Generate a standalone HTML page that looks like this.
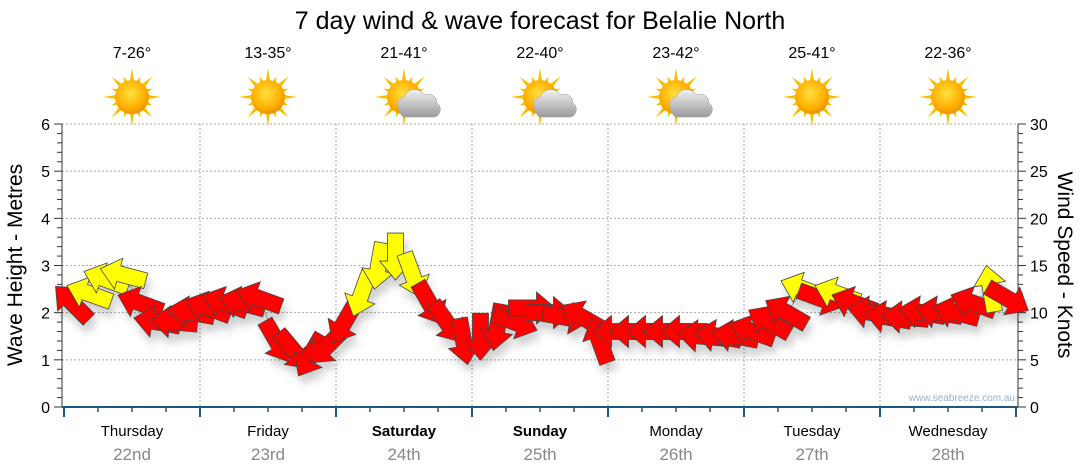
<!DOCTYPE html>
<html><head><meta charset="utf-8"><style>
body{margin:0;background:#fff;font-family:"Liberation Sans","DejaVu Sans",sans-serif}
svg{display:block}
</style></head><body>
<svg id="c" width="1080" height="475" viewBox="0 0 1080 475">
<defs>
<filter id="sh" x="-50%" y="-50%" width="200%" height="200%"><feDropShadow dx="3" dy="8" stdDeviation="4" flood-color="#000" flood-opacity="0.18"/></filter>
<radialGradient id="sun" cx="45%" cy="40%" r="60%"><stop offset="0" stop-color="#ffe040"/><stop offset="0.7" stop-color="#ffb000"/><stop offset="1" stop-color="#f09000"/></radialGradient>
<linearGradient id="cl" x1="0" y1="0" x2="0" y2="1"><stop offset="0" stop-color="#f2f2f2"/><stop offset="1" stop-color="#9a9a9a"/></linearGradient>
</defs>
<text x="540" y="29" font-size="25" text-anchor="middle" fill="#000">7 day wind &amp; wave forecast for Belalie North</text>
<g id="grid"></g>
<g id="axes"></g>
<g id="wx"></g>
<g id="arrows" filter="url(#sh)"></g>
<text x="1015" y="401" font-size="10" text-anchor="end" fill="#9ab0c8">www.seabreeze.com.au</text>
<text transform="translate(22,265) rotate(-90)" font-size="21" text-anchor="middle">Wave Height - Metres</text>
<text transform="translate(1058,265) rotate(90)" font-size="21" text-anchor="middle">Wind Speed - Knots</text>
</svg>
<script>
const days=["Thursday","Friday","Saturday","Sunday","Monday","Tuesday","Wednesday"];
const dates=["22nd","23rd","24th","25th","26th","27th","28th"];
const temps=["7-26°","13-35°","21-41°","22-40°","23-42°","25-41°","22-36°"];
const cloudy=[0,0,1,1,1,0,0];
const waveTicks=[0,1,2,3,4,5,6];
const windTicks=[0,5,10,15,20,25,30];
const windKnots=[11,12,13.5,14,11,9,9,10, 10.5,11,11,11.5,7,6,5.5,6.5, 9,12,15,16,14,11,9,7, 7.5,8.5,9,10.5,10,9.5,9.5,7, 8,8,8,8,8,7.5,7.5,7.5, 8,9,10,12.5,11.5,12,11,10, 9.5,9.5,10,10,10,11,12.5,11.5];
const windDir=[225,200,200,195,200,190,185,190, 200,200,195,200,60,50,120,135, 120,110,100,90,70,60,55,80, 90,100,20,0,0,10,210,250, 180,180,180,180,180,185,190,190, 200,210,210,200,20,200,200,190, 190,185,190,190,195,200,260,30];
const seaBreeze=[0,1,1,1,0,0,0,0, 0,0,0,0,0,0,0,0, 0,1,1,1,1,0,0,0, 0,0,0,0,0,0,0,0, 0,0,0,0,0,0,0,0, 0,0,0,1,0,1,0,0, 0,0,0,0,0,0,1,0];

const NS="http://www.w3.org/2000/svg";
const X0=64,DW=136,Y0=407,H=283;
const xDay=d=>X0+d*DW;
const xSlot=i=>X0+(i+0.5)*DW/8;
const yWave=m=>Y0-m*H/6;
const yKn=k=>Y0-k*H/30;
function mk(p,t,a){const e=document.createElementNS(NS,t);for(const k in a)e.setAttribute(k,a[k]);p.appendChild(e);return e;}
const grid=document.getElementById('grid'),axes=document.getElementById('axes'),wx=document.getElementById('wx'),ar=document.getElementById('arrows');
waveTicks.forEach(v=>{if(v>0){const l=mk(grid,'line',{x1:62,x2:1018,y1:yWave(v),y2:yWave(v),stroke:'#aaa','stroke-dasharray':'2,2'});

}
const t=mk(axes,'text',{x:50,y:yWave(v)+6,'font-size':16,'text-anchor':'end'});t.textContent=v;

});
windTicks.forEach(v=>{const t=mk(axes,'text',{x:1030,y:yKn(v)+6,'font-size':16});t.textContent=v;

});
for(let m=0;m<=30;m++){const y=yWave(m*0.2),L=m%5==0?8:5;mk(axes,'line',{x1:62-L,x2:62,y1:y,y2:y,stroke:'#333'});mk(axes,'line',{x1:1018,x2:1018+L,y1:y,y2:y,stroke:'#333'});}
mk(axes,'line',{x1:62,x2:62,y1:124,y2:407,stroke:'#333'});
mk(axes,'line',{x1:1018,x2:1018,y1:124,y2:407,stroke:'#333'});
for(let d=1;d<7;d++){const l=mk(grid,'line',{x1:xDay(d),x2:xDay(d),y1:124,y2:407,stroke:'#aaa','stroke-dasharray':'2,2'});

}
for(let q=0;q<=28;q++){const x=X0+q*DW/4;mk(axes,'line',{x1:x,x2:x,y1:407,y2:q%4==0?417:412,stroke:'#1d5a7a','stroke-width':q%4==0?2:1.5});}
const xa=mk(axes,'line',{x1:62,x2:1018,y1:407,y2:407,stroke:'#1d5a7a','stroke-width':2});


days.forEach((d,i)=>{const cx=xDay(i)+DW/2;
const t=mk(axes,'text',{x:cx,y:436,'font-size':15,'text-anchor':'middle','font-weight':(i==2||i==3)?'bold':'normal'});t.textContent=d;


const t2=mk(axes,'text',{x:cx,y:460,'font-size':17,'text-anchor':'middle',fill:'#888'});t2.textContent=dates[i];


const t3=mk(wx,'text',{x:cx,y:58,'font-size':16,'text-anchor':'middle'});t3.textContent=temps[i];


const g=mk(wx,'g',{transform:`translate(${cx},97)`});


for(let r=0;r<16;r++){const a=r*Math.PI/8,L=r%2?22:29;mk(g,'polygon',{points:`${Math.cos(a)*L},${Math.sin(a)*L} ${Math.cos(a+0.15)*15},${Math.sin(a+0.15)*15} ${Math.cos(a-0.15)*15},${Math.sin(a-0.15)*15}`,fill:'#f5c000'});}
mk(g,'circle',{r:17,fill:'url(#sun)'});
if(cloudy[i])mk(g,'path',{d:'M-4,14 a8,8 0 0 1 4,-14 a11,11 0 0 1 20,-2 a9,9 0 0 1 13,8 a8,8 0 0 1 -2,14 h-31 a6,6 0 0 1 -4,-6z',fill:'url(#cl)',stroke:'#999','stroke-width':0.5});
});
let pts=windKnots.map((k,i)=>xSlot(i)+','+yKn(k)).join(' ');
mk(ar,'polyline',{points:pts,fill:'none',stroke:'#888','stroke-width':1});
windKnots.forEach((k,i)=>{const g=mk(ar,'g',{transform:`translate(${xSlot(i)},${yKn(k)}) rotate(${windDir[i]})`});


mk(g,'polygon',{points:'-23,-8 5,-8 5,-16 24,0 5,16 5,8 -23,8',fill:seaBreeze[i]?'#ffff00':'#ff0000',stroke:'#444','stroke-width':0.8});});
</script>
</body></html>
